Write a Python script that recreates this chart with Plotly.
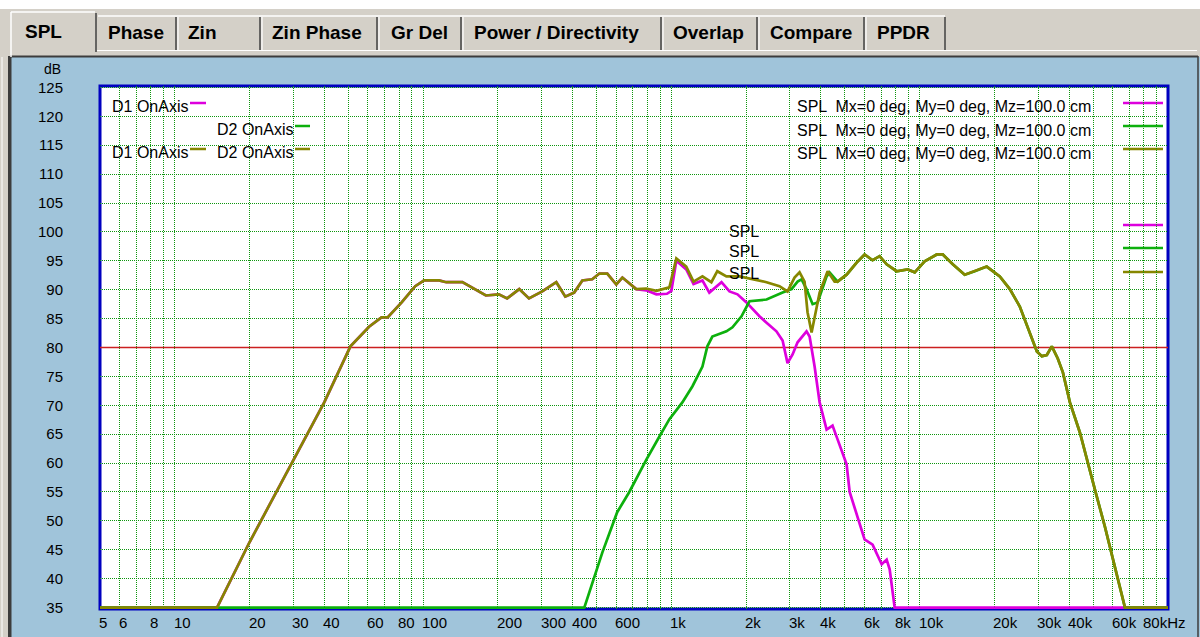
import numpy as np
import plotly.graph_objects as go

# ---------------- data ----------------
# shared low-frequency part (D1 and summed response are identical here)
LOW_F = [5, 14.8, 20, 30, 40, 51, 60.6, 68, 72, 82, 93, 101, 116, 124, 144, 179, 202, 218,
         244, 267, 302, 344, 374, 406, 438, 480, 513, 552, 600, 635, 722]
LOW_DB = [35, 35, 46.3, 60.6, 70.5, 80.2, 83.6, 85.2, 85.2, 87.8, 90.6, 91.6, 91.6, 91.3, 91.3,
          89.0, 89.2, 88.5, 90.1, 88.5, 89.7, 91.3, 88.8, 89.5, 91.6, 91.8, 92.8, 92.8, 90.9, 92.1, 90.1]

# D1 OnAxis (magenta) above 700 Hz
D1_MID_F = [792, 870, 960, 1000, 1047, 1148, 1228, 1334, 1422, 1592, 1714, 1846, 2006, 2263, 2417,
            2649, 2805, 2936, 3077, 3223, 3502, 3603, 3774, 3954, 4218, 4457, 4670, 5078, 5224,
            5730, 5999, 6462, 7031, 7362, 7570, 7930, 100000]
D1_MID_DB = [89.9, 89.2, 89.3, 89.8, 95.0, 93.5, 91.0, 91.6, 89.5, 91.3, 89.7, 89.2, 87.8, 85.4, 84.3,
             82.8, 81.2, 77.3, 78.8, 80.9, 82.8, 81.9, 76.7, 70.5, 65.8, 66.5, 64.1, 59.8, 55.0,
             49.7, 46.8, 45.9, 42.5, 43.3, 41.6, 35, 35]

# D2 OnAxis (green) up to 4.4 kHz
D2_LOW_F = [5, 446, 527, 605, 677, 793, 895, 982, 1107, 1216, 1334, 1396, 1462, 1666, 1762, 1916,
            2063, 2417, 2805, 3048, 3223, 3345, 3502, 3705, 3881, 4218, 4336]
D2_LOW_DB = [35, 35, 44.5, 51.5, 55.0, 60.6, 64.6, 67.6, 70.5, 73.3, 76.7, 80.2, 81.9, 82.8, 83.5, 85.4,
             88.0, 88.3, 89.5, 90.1, 91.4, 91.8, 90.1, 87.5, 87.8, 92.3, 93.0]

# summed response (olive) 0.8 - 4.5 kHz
SUM_MID_F = [792, 870, 982, 1047, 1148, 1228, 1334, 1449, 1531, 1666, 1881, 2121, 2417, 2725, 2936,
             3133, 3283, 3438, 3535, 3670, 3774, 3954, 4258, 4543]
SUM_MID_DB = [90.2, 89.8, 90.4, 95.4, 94.0, 91.4, 92.3, 91.3, 93.2, 92.3, 92.3, 91.8, 91.3, 90.6, 89.7,
              92.1, 93.0, 91.4, 86.1, 82.6, 85.4, 89.5, 93.2, 91.4]

# high-frequency part shared by D2 and the sum
HF_F = [4670, 5078, 5572, 5999, 6462, 6897, 7362, 8073, 8947, 9550, 10471, 11716, 12388, 13590, 15181,
        16665, 18621, 21020, 23062, 25300, 27240, 29640, 31040, 32510, 34050, 35980, 37730, 40270,
        44170, 47100, 50780, 55700, 59980, 67100, 100000]
HF_DB = [91.4, 92.6, 94.7, 96.1, 95.1, 95.8, 94.4, 93.2, 93.5, 93.0, 94.9, 96.1, 96.1, 94.4, 92.6,
         93.2, 94.0, 92.3, 90.1, 87.1, 83.6, 79.3, 78.5, 78.7, 80.2, 78.1, 75.7, 70.5,
         65.3, 60.6, 55.4, 49.0, 43.3, 35, 35]

D1_F, D1_DB = LOW_F + D1_MID_F, LOW_DB + D1_MID_DB
D2_F, D2_DB = D2_LOW_F + HF_F, D2_LOW_DB + HF_DB
SUM_F, SUM_DB = LOW_F + SUM_MID_F + HF_F, LOW_DB + SUM_MID_DB + HF_DB

REF_LEVEL = 80
F_MIN, F_MAX = 5, 100000
DB_MIN, DB_MAX = 35, 125
Y_TICKS = list(range(35, 126, 5))
X_LABEL_VALS = [5, 6, 8, 10, 20, 30, 40, 60, 80, 100, 200, 300, 400, 600, 1000, 2000, 3000, 4000,
                6000, 8000, 10000, 20000, 30000, 40000, 60000, 80000]
X_LABEL_TEXT = ['5', '6', '8', '10', '20', '30', '40', '60', '80', '100', '200', '300', '400', '600',
                '1k', '2k', '3k', '4k', '6k', '8k', '10k', '20k', '30k', '40k', '60k', '80kHz']
TABS = ['SPL', 'Phase', 'Zin', 'Zin Phase', 'Gr Del', 'Power / Directivity', 'Overlap', 'Compare', 'PPDR']
LEGEND_TEXT = 'SPL  Mx=0 deg, My=0 deg, Mz=100.0 cm'

# ---------------- styling ----------------
C_D1, C_D2, C_SUM = '#DD00DD', '#0DB00D', '#878700'
PANEL = '#A0C4DA'
TABGRAY = '#D4D0C8'
GRID = '#0E960E'
FONT = 'Liberation Sans, Arial, sans-serif'

W, H = 1200, 637
ML, MR, MT, MB = 100, 32, 86, 28
PW, PH = W - ML - MR, H - MT - MB


def px(x):
    return (x - ML) / PW


def py(y):
    return (H - MB - y) / PH


shapes, annotations = [], []


def rect(x0, y0, x1, y1, fill, layer='below'):
    shapes.append(dict(type='rect', xref='paper', yref='paper', x0=px(x0), x1=px(x1),
                       y0=py(y1), y1=py(y0), fillcolor=fill, line=dict(width=0), layer=layer))


def seg(x0, y0, x1, y1, color, width=1.0, layer='below'):
    shapes.append(dict(type='line', xref='paper', yref='paper', x0=px(x0), y0=py(y0),
                       x1=px(x1), y1=py(y1), line=dict(color=color, width=width), layer=layer))


def txt(s, x, y, size=16, anchor='left'):
    annotations.append(dict(text=s, xref='paper', yref='paper', x=px(x), y=py(y), xanchor=anchor,
                            yanchor='middle', showarrow=False,
                            font=dict(family=FONT, size=size, color='black')))


# window frame / tab strip
rect(0, 0, W, 9, '#FFFFFF')
rect(0, 9, W, 57, TABGRAY)
rect(0, 57, 8, H, TABGRAY)
seg(2, 57, 2, H, '#FFFFFF', 1)
rect(8, 56, 11.5, H, '#3C3C3C')
seg(10, 56.5, W - 2, 56.5, '#3C3C3C', 2)
seg(W - 2, 56, W - 2, H, '#3C3C3C', 1.5)

# tabs
seps = [97, 177, 261, 378, 462, 662, 758, 865, 946]
seg(11, 57, 11, 12, '#FFFFFF', 1.5)
seg(11, 12, 95, 12, '#FFFFFF', 1.5)
seg(96, 13, 96, 52, '#404040', 1.5)
seg(98, 16, 945, 16, '#FFFFFF', 1.5)
for s in seps[1:]:
    seg(s - 1, 17, s - 1, 50, '#404040', 1.5)
    if s != seps[-1]:
        seg(s + 1, 17, s + 1, 50, '#FFFFFF', 1.2)
seg(97, 50.5, W - 3, 50.5, '#FFFFFF', 1.2)
tab_x = [23, 106, 186, 270, 389, 472, 671, 768, 875]
for t, x in zip(TABS, tab_x):
    txt('<b>%s</b>' % t, x, 31 if t == 'SPL' else 32, size=19)

# plot border
shapes.append(dict(type='rect', xref='paper', yref='paper', x0=0, x1=1, y0=0, y1=1,
                   line=dict(color='#0000C0', width=3), layer='below'))

# legend inside the plot (top-left)
txt('D1 OnAxis', 110, 106)
seg(190, 103, 206, 103, C_D1, 2.5)
txt('D2 OnAxis', 215, 129)
seg(295, 126, 310, 126, C_D2, 2.5)
txt('D1 OnAxis', 110, 152)
seg(190, 149, 206, 149, C_SUM, 2.5)
txt('D2 OnAxis', 215, 152)
seg(295, 149, 310, 149, C_SUM, 2.5)

# legend (top-right)
for yy, ly, c in [(106, 103, C_D1), (130, 126, C_D2), (153, 149, C_SUM)]:
    txt(LEGEND_TEXT, 795, yy)
    seg(1123, ly, 1163, ly, c, 2.5)

# SPL labels (middle) and their line keys
for yy, ly, c in [(231, 225, C_D1), (252, 248, C_D2), (273, 272, C_SUM)]:
    txt('SPL', 727, yy)
    seg(1123, ly, 1163, ly, c, 2.5)

# "dB" unit label
txt('dB', 52, 69, size=14, anchor='center')

# x tick labels (left-aligned at their gridline, as in the reference)
for v, t in zip(X_LABEL_VALS, X_LABEL_TEXT):
    annotations.append(dict(text=t, xref='x', yref='paper', x=np.log10(v), y=py(622),
                            xanchor='left', yanchor='middle', xshift=-3, showarrow=False,
                            font=dict(family=FONT, size=15, color='black')))

grid_f = [m * 10 ** e for e in range(0, 5) for m in range(1, 10) if F_MIN < m * 10 ** e < F_MAX]

fig = go.Figure()
fig.add_trace(go.Scatter(x=[F_MIN, F_MAX], y=[REF_LEVEL, REF_LEVEL], mode='lines',
                         line=dict(color='#CC2020', width=1.6), hoverinfo='skip'))
fig.add_trace(go.Scatter(x=D1_F, y=D1_DB, mode='lines', name='D1 OnAxis',
                         line=dict(color=C_D1, width=2.7)))
fig.add_trace(go.Scatter(x=D2_F, y=D2_DB, mode='lines', name='D2 OnAxis',
                         line=dict(color=C_D2, width=2.7)))
fig.add_trace(go.Scatter(x=SUM_F, y=SUM_DB, mode='lines', name='D1 OnAxis D2 OnAxis',
                         line=dict(color=C_SUM, width=2.7)))

fig.update_layout(
    width=W, height=H,
    margin=dict(l=ML, r=MR, t=MT, b=MB, pad=0),
    paper_bgcolor=PANEL, plot_bgcolor='white',
    showlegend=False,
    shapes=shapes, annotations=annotations,
    font=dict(family=FONT, color='black'),
    xaxis=dict(type='log', range=[np.log10(F_MIN), np.log10(F_MAX)], tickmode='array',
               tickvals=grid_f, showticklabels=False, ticks='', showgrid=True,
               gridcolor=GRID, griddash='1px,1px', gridwidth=1, zeroline=False, showline=False,
               fixedrange=True),
    yaxis=dict(range=[DB_MIN - 0.25, DB_MAX + 0.25], tickmode='array', tickvals=Y_TICKS,
               ticktext=[str(v) for v in Y_TICKS], ticks='', showgrid=True, gridcolor=GRID,
               griddash='1px,1px', gridwidth=1, zeroline=False, showline=False,
               tickfont=dict(family=FONT, size=15, color='black'), ticklabelstandoff=36,
               fixedrange=True),
)

fig.write_html('out.html', config={'displayModeBar': False},
               post_script="document.body.style.margin='0';document.body.style.overflow='hidden';")
